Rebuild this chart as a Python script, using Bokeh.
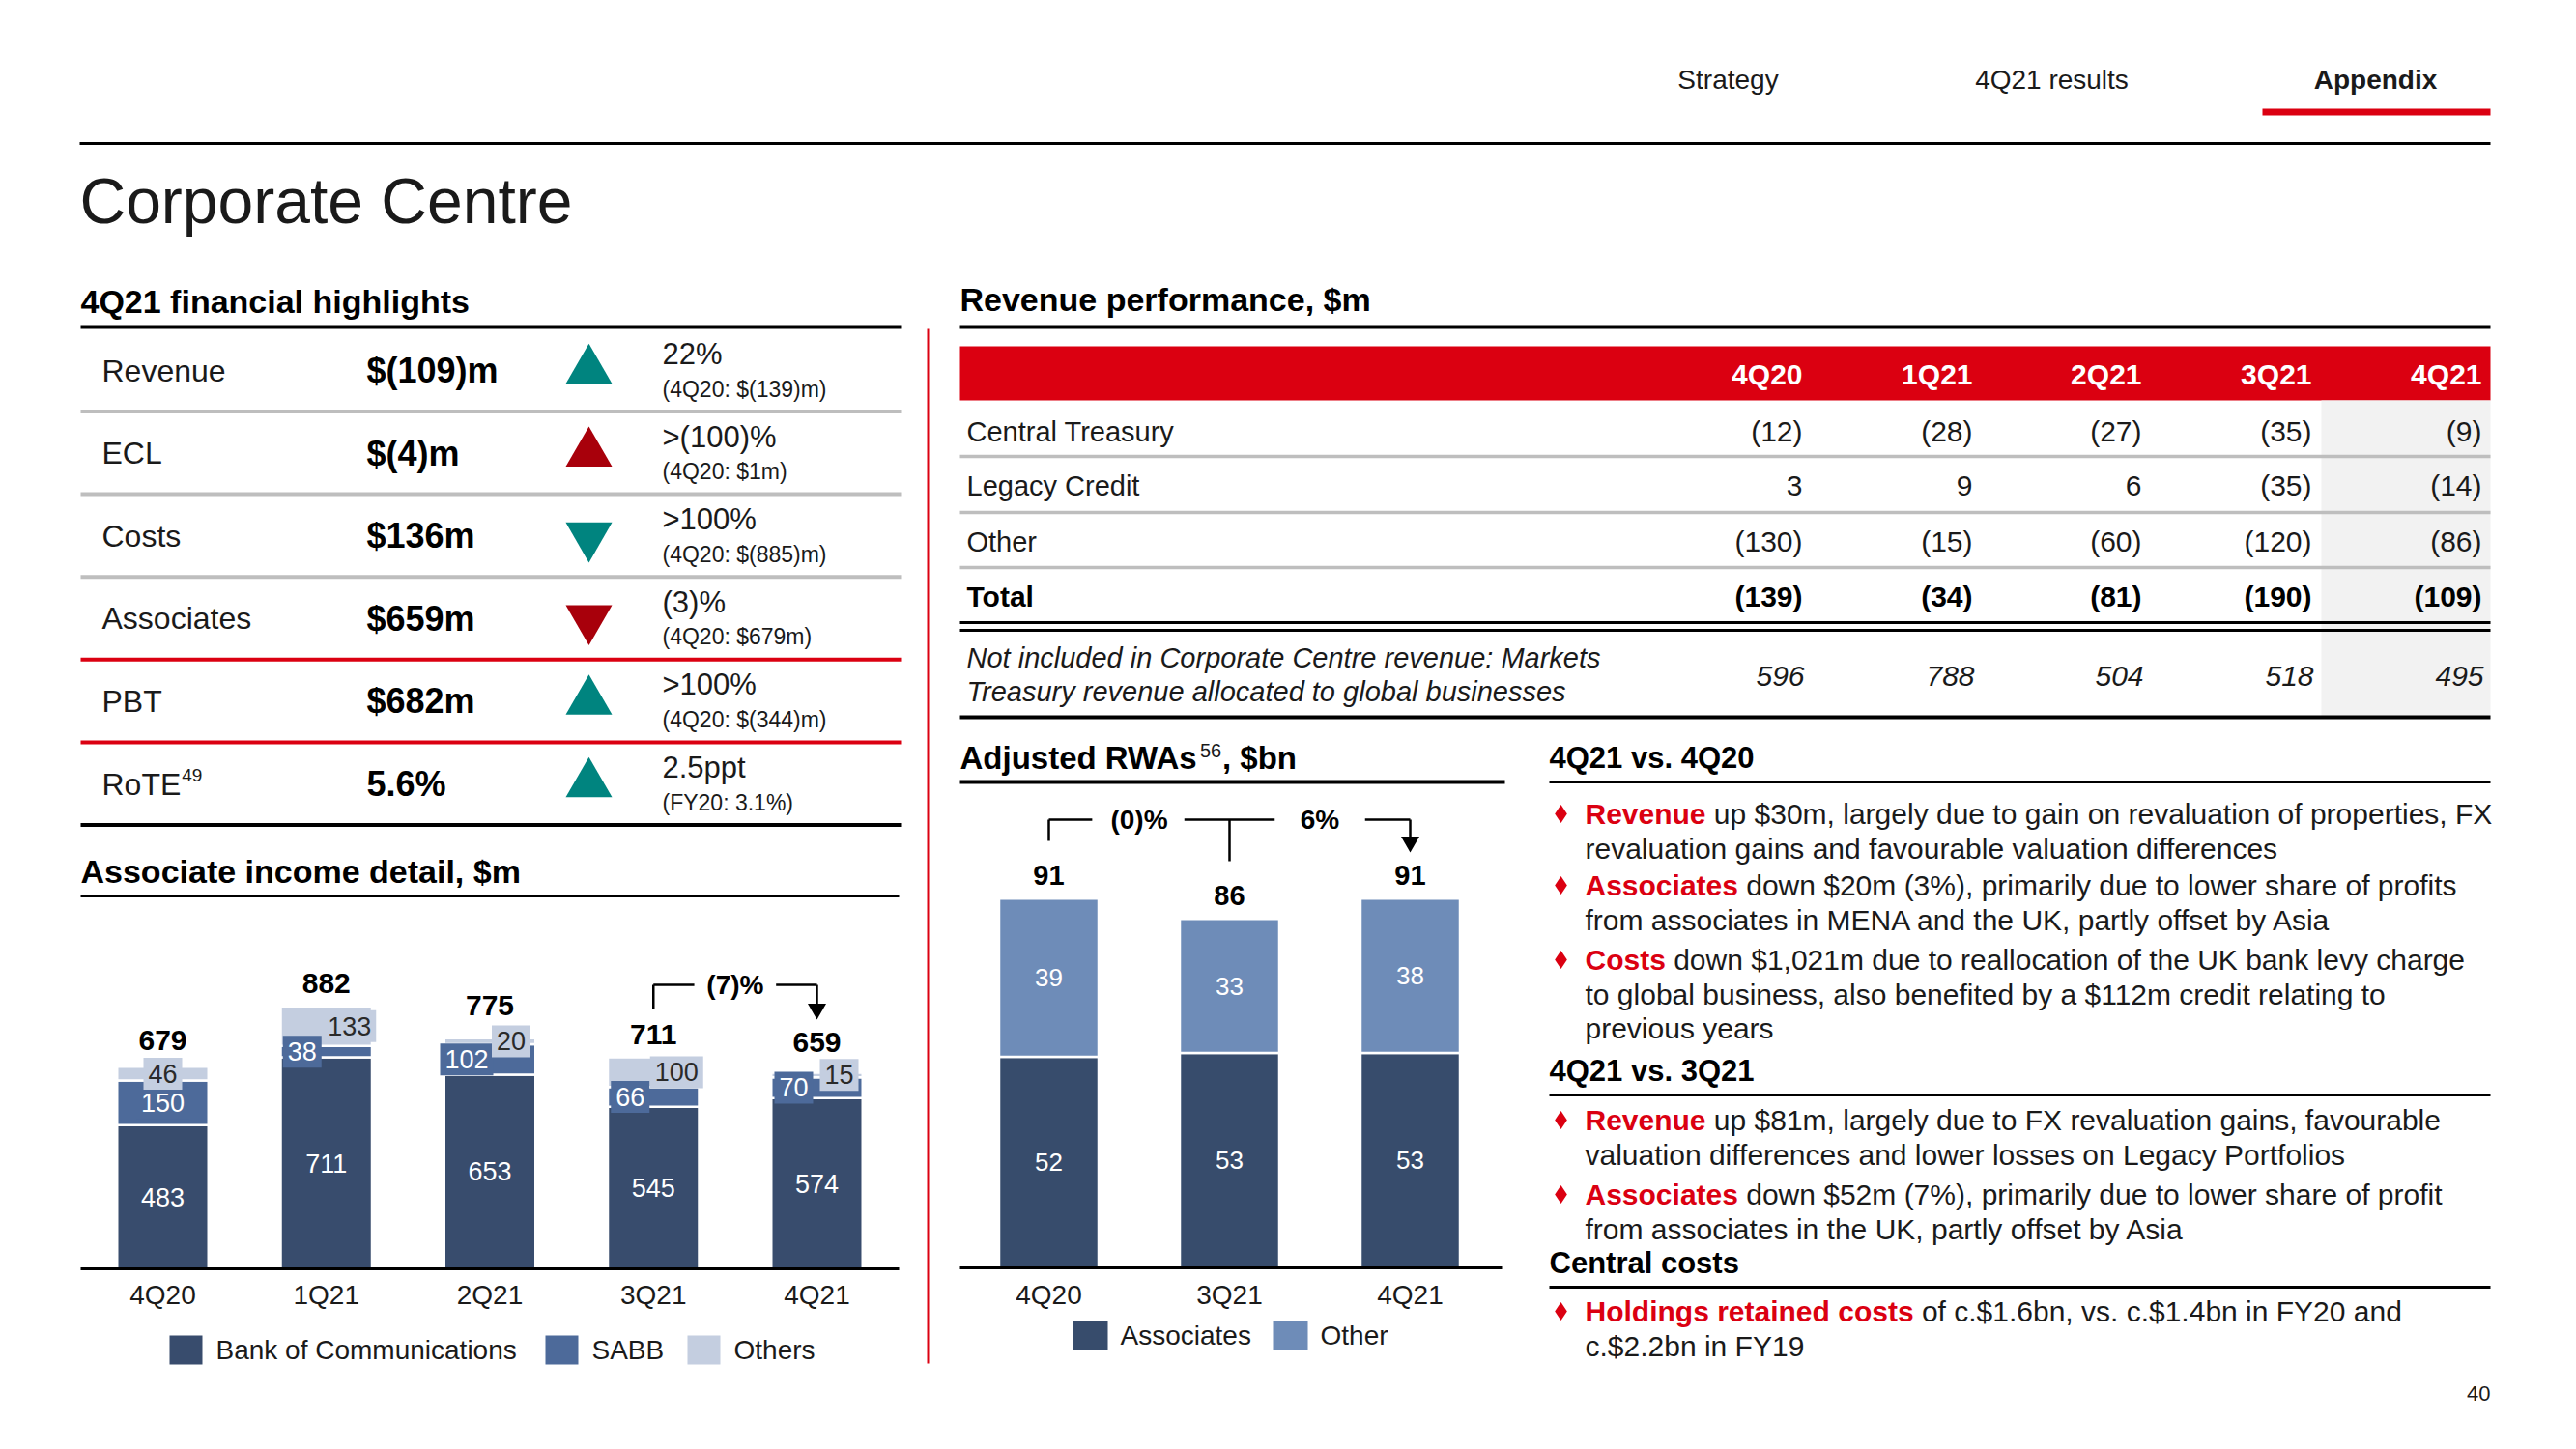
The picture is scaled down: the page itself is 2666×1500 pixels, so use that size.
import numpy as np
from bokeh.plotting import figure
from bokeh.models import Range1d
from bokeh.embed import file_html
from bokeh.resources import INLINE
from bokeh.core.properties import value

# ---------------- data ----------------
nav_items = ["Strategy", "4Q21 results", "Appendix"]
slide_title = "Corporate Centre"
page_number = "40"

hl_title = "4Q21 financial highlights"
hl_labels = ["Revenue", "ECL", "Costs", "Associates", "PBT", "RoTE"]
hl_values = ["$(109)m", "$(4)m", "$136m", "$659m", "$682m", "5.6%"]
hl_change = ["22%", ">(100)%", ">100%", "(3)%", ">100%", "2.5ppt"]
hl_prior = ["(4Q20: $(139)m)", "(4Q20: $1m)", "(4Q20: $(885)m)", "(4Q20: $679m)",
            "(4Q20: $(344)m)", "(FY20: 3.1%)"]
hl_up = [True, True, False, False, True, True]
hl_good = [True, False, True, False, True, True]

assoc_title = "Associate income detail, $m"
assoc_quarters = ["4Q20", "1Q21", "2Q21", "3Q21", "4Q21"]
assoc_bocom = [483, 711, 653, 545, 574]
assoc_sabb = [150, 38, 102, 66, 70]
assoc_others = [46, 133, 20, 100, 15]
assoc_totals = [679, 882, 775, 711, 659]
assoc_change = "(7)%"
assoc_series = ["Bank of Communications", "SABB", "Others"]

rev_title = "Revenue performance, $m"
rev_quarters = ["4Q20", "1Q21", "2Q21", "3Q21", "4Q21"]
rev_rows = ["Central Treasury", "Legacy Credit", "Other"]
rev_central = [-12, -28, -27, -35, -9]
rev_legacy = [3, 9, 6, -35, -14]
rev_other = [-130, -15, -60, -120, -86]
rev_total = [-139, -34, -81, -190, -109]
rev_markets = [596, 788, 504, 518, 495]
rev_note = ["Not included in Corporate Centre revenue: Markets",
            "Treasury revenue allocated to global businesses"]

rwa_quarters = ["4Q20", "3Q21", "4Q21"]
rwa_assoc = [52, 53, 53]
rwa_other = [39, 33, 38]
rwa_totals = [91, 86, 91]
rwa_changes = ["(0)%", "6%"]
rwa_series = ["Associates", "Other"]

sections = [
    ("4Q21 vs. 4Q20", [
        ("Revenue", ["up $30m, largely due to gain on revaluation of properties, FX",
                     "revaluation gains and favourable valuation differences"]),
        ("Associates", ["down $20m (3%), primarily due to lower share of profits",
                        "from associates in MENA and the UK, partly offset by Asia"]),
        ("Costs", ["down $1,021m due to reallocation of the UK bank levy charge",
                   "to global business, also benefited by a $112m credit relating to",
                   "previous years"]),
    ]),
    ("4Q21 vs. 3Q21", [
        ("Revenue", ["up $81m, largely due to FX revaluation gains, favourable",
                     "valuation differences and lower losses on Legacy Portfolios"]),
        ("Associates", ["down $52m (7%), primarily due to lower share of profit",
                        "from associates in the UK, partly offset by Asia"]),
    ]),
    ("Central costs", [
        ("Holdings retained costs", ["of c.$1.6bn, vs. c.$1.4bn in FY20 and",
                                     "c.$2.2bn in FY19"]),
    ]),
]

# ---------------- style ----------------
W, H = 2650, 1484
OX, OY = 0, 0
FONT = "Liberation Sans"
BLACK = "#000000"
TXT = "#1a1a1a"
RED = "#DB0011"
TEAL = "#00847F"
DARKRED = "#A8000B"
GREY = "#BEBEBE"
SHADE = "#F2F2F2"
C_BOCOM = "#384C6D"
C_SABB = "#4D6A9A"
C_OTHERS = "#C4CEE0"
C_RASSOC = "#374C6C"
C_ROTHER = "#6E8CB8"

ARIAL_REG = {'R': 722, 'o': 556, 'T': 611, 'E': 667, '5': 556, '6': 556, '4': 556, '9': 556}
ARIAL_BOLD = {'R': 722, 'e': 556, 'v': 556, 'n': 611, 'u': 611, 'A': 722, 's': 556, 'o': 611,
              'c': 556, 'i': 278, 'a': 556, 't': 333, 'C': 722, 'H': 722, 'l': 278, 'd': 611,
              'g': 611, 'r': 389, ' ': 278, 'j': 278, 'W': 944}


def tw(s, size, table):
    return sum(table.get(c, 556) for c in s) / 1000.0 * size


p = figure(width=W, height=H, x_range=Range1d(OX, OX + W), y_range=Range1d(OY + H, OY),
           output_backend="svg", toolbar_location=None, min_border=0,
           x_axis_location=None, y_axis_location=None, outline_line_color=None,
           background_fill_color="white", border_fill_color="white")
p.grid.visible = False


def chart_ranges(x0, sx, y0, sy):
    xr = Range1d((OX - x0) / sx, (OX + W - x0) / sx)
    yr = Range1d((y0 - (OY + H)) / sy, (y0 - OY) / sy)
    return xr, yr


# associate chart: category i at page x 168 + 169.25 i, value v at page y 1313 - 0.308 v
AX0, ASX, AY0, ASY = 168, 169.25, 1313, 0.308
# RWA chart
RX0, RSX, RY0, RSY = 1085, 187, 1312, 4.2
ax_r, ay_r = chart_ranges(AX0, ASX, AY0, ASY)
rx_r, ry_r = chart_ranges(RX0, RSX, RY0, RSY)
p.extra_x_ranges = {"ax": ax_r, "rx": rx_r}
p.extra_y_ranges = {"ay": ay_r, "ry": ry_r}


def T(x, y, s, size, color=TXT, style="normal", align="left", baseline="middle",
      xr="default", yr="default", font=FONT):
    xs = [float(v) for v in np.atleast_1d(x)]
    ys = [float(v) for v in np.atleast_1d(y)]
    ss = [s] if isinstance(s, str) else [str(v) for v in s]
    n = max(len(xs), len(ys), len(ss))
    xs = xs * n if len(xs) == 1 else xs
    ys = ys * n if len(ys) == 1 else ys
    ss = ss * n if len(ss) == 1 else ss
    p.text(x=xs, y=ys, text=ss, text_font=value(font), text_font_size=f"{size}px",
           text_font_style=style, text_color=color, text_align=align, text_baseline=baseline,
           x_range_name=xr, y_range_name=yr)


def S(x0, y0, x1, y1, color=BLACK, w=3, xr="default", yr="default"):
    p.segment(x0=[x0], y0=[y0], x1=[x1], y1=[y1], line_color=color, line_width=w,
              x_range_name=xr, y_range_name=yr)


def Q(l, r, t, b, color):
    p.quad(left=[l], right=[r], top=[t], bottom=[b], fill_color=color, line_color=None)


# ---------------- header ----------------
for name, cx in zip(nav_items, [1788, 2123, 2458]):
    T(cx, 82, name, 28, style="bold" if name == "Appendix" else "normal", align="center")
Q(2341, 2577, 112, 119, RED)
S(82, 148, 2577, 148, BLACK, 3)
T(82, 207, slide_title, 66)
T(2577, 1442, page_number, 22, align="right")

# ---------------- financial highlights ----------------
T(83, 311, hl_title, 34, BLACK, "bold")
S(83, 338, 932, 338, BLACK, 4)
RY, RDY = 383, 85.6
sep_colors = [GREY, GREY, GREY, RED, RED, BLACK]
for i in range(6):
    y = RY + i * RDY
    T(105, y, hl_labels[i], 32)
    if hl_labels[i] == "RoTE":
        T(105 + tw("RoTE", 32, ARIAL_REG) + 1, y - 9, "49", 19)
    T(379, y, hl_values[i], 36, BLACK, "bold")
    p.scatter([609], [y], marker="triangle" if hl_up[i] else "inverted_triangle", size=48,
              fill_color=TEAL if hl_good[i] else DARKRED, line_color=None)
    T(685, y - 17, hl_change[i], 31)
    T(685, y + 19, hl_prior[i], 23)
    S(83, y + 42.5, 932, y + 42.5, sep_colors[i], 4)

# ---------------- associate income chart ----------------
T(83, 901, assoc_title, 34, BLACK, "bold")
S(83, 927, 930, 927, BLACK, 3)
ai = np.arange(len(assoc_quarters))
b1 = np.array(assoc_bocom, dtype=float)
b2 = b1 + np.array(assoc_sabb)
b3 = b2 + np.array(assoc_others)
bw = 94.5 / ASX
for bot, top, col in [(np.zeros(len(ai)), b1, C_BOCOM), (b1, b2, C_SABB), (b2, b3, C_OTHERS)]:
    p.vbar(x=ai, bottom=bot, top=top, width=bw, fill_color=col, line_color="white", line_width=2.5,
           x_range_name="ax", y_range_name="ay")
S(83, 1313, 930, 1313, BLACK, 3)

# segment labels
T(ai, b1 / 2, assoc_bocom, 27, "white", align="center", xr="ax", yr="ay")
sabb_dx = np.array([0, -25, -24, -24, -24]) / ASX
oth_dx = np.array([0, 24, 22, 24, 23]) / ASX
sy = b1 + np.array(assoc_sabb) / 2
oy = b2 + np.array(assoc_others) / 2
sw = [10 + 15 * len(str(v)) for v in assoc_sabb]
ow = [10 + 15 * len(str(v)) for v in assoc_others]
p.rect(x=ai + sabb_dx, y=sy, width=sw, height=33, width_units="screen", height_units="screen",
       fill_color=C_SABB, line_color=None, x_range_name="ax", y_range_name="ay")
T(ai + sabb_dx, sy, assoc_sabb, 27, "white", align="center", xr="ax", yr="ay")
p.rect(x=ai + oth_dx, y=oy, width=ow, height=33, width_units="screen", height_units="screen",
       fill_color=C_OTHERS, line_color=None, x_range_name="ax", y_range_name="ay")
T(ai + oth_dx, oy, assoc_others, 27, "#2a2a2a", align="center", xr="ax", yr="ay")
tot_off = np.array([27, 24, 34, 24, 32]) / ASY
T(ai, np.array(assoc_totals) + tot_off, assoc_totals, 30, BLACK, "bold", align="center", xr="ax", yr="ay")
T(ai, 1340, assoc_quarters, 28, align="center", xr="ax")

# (7)% bracket between 3Q21 and 4Q21
S(3, 1044, 3, 1019, BLACK, 2.5, xr="ax")
S(3, 1019, 3.25, 1019, BLACK, 2.5, xr="ax")
S(3.75, 1019, 4, 1019, BLACK, 2.5, xr="ax")
S(4, 1019, 4, 1040, BLACK, 2.5, xr="ax")
p.scatter([4], [1044], marker="inverted_triangle", size=19, fill_color=BLACK, line_color=None,
          x_range_name="ax")
T(3.5, 1019, assoc_change, 28, BLACK, "bold", align="center", xr="ax")

# legend
for name, col, lx in zip(assoc_series, [C_BOCOM, C_SABB, C_OTHERS], [175, 564, 711]):
    Q(lx, lx + 34, 1382, 1412, col)
    T(lx + 48, 1397, name, 28)

# red divider
S(960, 340, 960, 1411, RED, 2)

# ---------------- revenue table ----------------
T(993, 309, rev_title, 34, BLACK, "bold")
S(993, 338, 2577, 338, BLACK, 4)
Q(993, 2577, 358, 414, RED)
Q(2402, 2577, 414, 742, SHADE)
col_r = [1865, 2041, 2216, 2392, 2568]


def fmt(v):
    return f"({abs(v)})" if v < 0 else str(v)


T(col_r, 387, rev_quarters, 30, "white", "bold", align="right")
row_y = [446, 502, 560]
for lab, vals, y in zip(rev_rows, [rev_central, rev_legacy, rev_other], row_y):
    T(1000, y, lab, 29)
    T(col_r, y, [fmt(v) for v in vals], 30, align="right")
for y in [472, 530, 587]:
    S(993, y, 2577, y, GREY, 3.5)
T(1000, 617, "Total", 30, BLACK, "bold")
T(col_r, 617, [fmt(v) for v in rev_total], 30, BLACK, "bold", align="right")
S(993, 644, 2577, 644, BLACK, 3)
S(993, 652, 2577, 652, BLACK, 3)
T(1000, 680, rev_note[0], 29, style="italic")
T(1000, 715, rev_note[1], 29, style="italic")
T([c + 2 for c in col_r], 699, [fmt(v) for v in rev_markets], 30, style="italic", align="right")
S(993, 742, 2577, 742, BLACK, 4)

# ---------------- RWA chart ----------------
rt = "Adjusted RWAs"
T(993, 784, rt, 33, BLACK, "bold")
sx_ = 993 + tw(rt, 33, ARIAL_BOLD) + 1
T(sx_, 776, "56", 20)
T(sx_ + 23, 784, ", $bn", 33, BLACK, "bold")
S(993, 809, 1557, 809, BLACK, 4)
ri = np.arange(len(rwa_quarters))
r1 = np.array(rwa_assoc, dtype=float)
r2 = r1 + np.array(rwa_other)
rbw = 103 / RSX
p.vbar(x=ri, bottom=0, top=r1, width=rbw, fill_color=C_RASSOC, line_color="white", line_width=2.5,
       x_range_name="rx", y_range_name="ry")
p.vbar(x=ri, bottom=r1, top=r2, width=rbw, fill_color=C_ROTHER, line_color="white", line_width=2.5,
       x_range_name="rx", y_range_name="ry")
S(993, 1312, 1554, 1312, BLACK, 3)
T(ri, r1 / 2, rwa_assoc, 26, "white", align="center", xr="rx", yr="ry")
T(ri, r1 + np.array(rwa_other) / 2, rwa_other, 26, "white", align="center", xr="rx", yr="ry")
T(ri, np.array(rwa_totals) + 24 / RSY, rwa_totals, 29, BLACK, "bold", align="center", xr="rx", yr="ry")
T(ri, 1340, rwa_quarters, 28, align="center", xr="rx")
# brackets
S(0, 870, 0, 848, BLACK, 2.5, xr="rx")
S(0, 848, 0.24, 848, BLACK, 2.5, xr="rx")
S(0.75, 848, 1.25, 848, BLACK, 2.5, xr="rx")
S(1, 848, 1, 891, BLACK, 2.5, xr="rx")
S(1.75, 848, 2, 848, BLACK, 2.5, xr="rx")
S(2, 848, 2, 866, BLACK, 2.5, xr="rx")
p.scatter([2], [871], marker="inverted_triangle", size=19, fill_color=BLACK, line_color=None,
          x_range_name="rx")
T([0.5, 1.5], 848, rwa_changes, 28, BLACK, "bold", align="center", xr="rx")
for name, col, lx in zip(rwa_series, [C_RASSOC, C_ROTHER], [1110, 1317]):
    Q(lx, lx + 36, 1367, 1397, col)
    T(lx + 49, 1382, name, 28)

# ---------------- commentary ----------------
sec_y = [784, 1108, 1307]
bullet_y = [[842, 916, 993], [1159, 1236], [1357]]
LH = 35.5
for (head, items), hy, bys in zip(sections, sec_y, bullet_y):
    T(1603, hy, head, 31, BLACK, "bold")
    S(1603, hy + 25, 2577, hy + 25, BLACK, 3)
    for (kw, lines), by in zip(items, bys):
        p.scatter([1615], [by], marker="diamond", size=19, fill_color=RED, line_color=None)
        T(1640, by, kw, 30, RED, "bold")
        T(1640 + tw(kw, 30, ARIAL_BOLD) + 8.3, by, lines[0], 30)
        for k, ln in enumerate(lines[1:], 1):
            T(1640, by + k * LH, ln, 30)

open("out.html", "w").write(file_html(p, INLINE))
